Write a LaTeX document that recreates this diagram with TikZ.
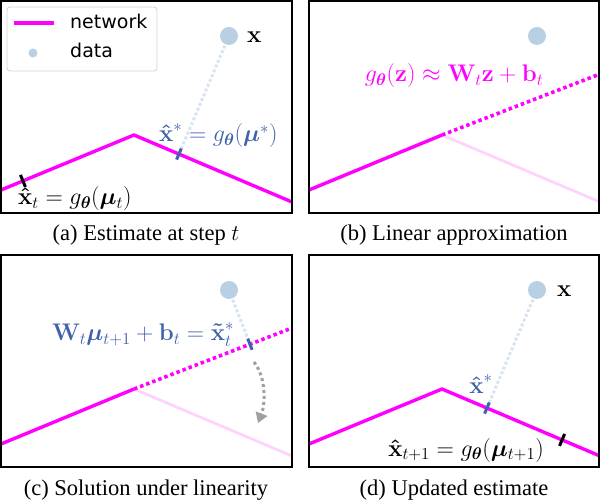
\RequirePackage{fix-cm}
\documentclass[tikz,border=0pt]{standalone}
\usepackage{amsmath,bm}
\usepackage[no-math]{fontspec}
\setmainfont{Liberation Serif}
\newfontfamily\legendfont{DejaVu Sans}
\usetikzlibrary{calc,arrows.meta}
\definecolor{netmag}{RGB}{255,0,255}
\definecolor{fadepink}{RGB}{255,212,250}
\definecolor{datablue}{RGB}{184,207,228}
\definecolor{projblue}{RGB}{218,228,240}
\definecolor{estblue}{RGB}{64,98,170}
\definecolor{arrgray}{RGB}{160,160,160}
\definecolor{legborder}{RGB}{210,210,210}
\newcommand{\hx}{\bm{\hat{\mathbf{x}}}}
\newcommand{\tx}{\bm{\tilde{\mathbf{x}}}}
\begin{document}
\begin{tikzpicture}[x=1pt,y=-1pt,
  frame/.style={draw=black,line width=1.1pt},
  net/.style={draw=netmag,line width=3.4pt},
  netlin/.style={draw=netmag,line width=3.6pt,dash pattern=on 3.5pt off 3pt},
  netfade/.style={draw=fadepink,line width=2.8pt},
  proj/.style={draw=projblue,line width=3pt,dash pattern=on 3pt off 2.2pt},
  datapt/.style={circle,fill=datablue,minimum size=18pt,inner sep=0pt},
  tickblack/.style={draw=black,line width=3pt},
  tickblue/.style={draw=estblue,line width=3pt},
  mlabel/.style={font=\fontsize{24}{28}\selectfont,inner sep=0pt},
  legtext/.style={font=\legendfont\fontsize{19}{22}\selectfont,inner sep=0pt,anchor=base west},
  captext/.style={font=\fontsize{22.5}{27}\selectfont,anchor=base,inner sep=0pt},
  grayarr/.style={draw=arrgray,line width=3pt,dash pattern=on 3pt off 3pt,
    -{Triangle[length=10pt,width=12pt,fill=arrgray]}},
]
\useasboundingbox (0,0) rectangle (602,502);

% ---------------- panel (a)
\begin{scope}[shift={(1,1)}]
  \begin{scope}
    \clip (0,0) rectangle (291,212);
    \coordinate (aL) at (0,189);
    \coordinate (aP) at (133,134);
    \coordinate (aR) at (291,201);
    \coordinate (aDc) at (228,35);
    \coordinate (aF) at ($(aP)!(aDc)!(aR)$);
    \coordinate (aT) at ($(aL)!0.165!(aP)$);
    \draw[net] (aL) -- (aP) -- (aR);
    \draw[proj] (aDc) -- (aF);
    \node[datapt] (aD) at (aDc) {};
    \draw[tickblack] ($(aT)!6.5pt!90:(aP)$) -- ($(aT)!6.5pt!-90:(aP)$);
    \draw[tickblue] ($(aF)!6pt!90:(aR)$) -- ($(aF)!6pt!-90:(aR)$);
    \node[mlabel,anchor=base west] (aLab) at (17,204) {$\hx_t = g_{\bm\theta}(\bm\mu_t)$};
    \node[mlabel,anchor=base west,text=estblue] (aLabS) at (158,141) {$\hx^* = g_{\bm\theta}(\bm\mu^*)$};
    \node[mlabel,anchor=base west] (aX) at (246,42) {$\mathbf{x}$};
    % legend
    \draw[draw=legborder,fill=white,rounded corners=3pt,line width=0.8pt] (6,6) rectangle (156,70);
    \coordinate (lgA) at (13,22);
    \coordinate (lgB) at (53,22);
    \draw[net] (lgA) -- (lgB);
    \node[legtext] (lgNet) at (69,28) {network};
    \node[circle,fill=datablue,minimum size=9pt,inner sep=0pt] (lgDot) at (32,52) {};
    \node[legtext] (lgData) at (69,57) {data};
  \end{scope}
  \draw[frame] (0,0) rectangle (291,212);
\end{scope}

% ---------------- panel (b)
\begin{scope}[shift={(309,1)}]
  \begin{scope}
    \clip (0,0) rectangle (290,212);
    \coordinate (bL) at (0,189);
    \coordinate (bP) at (133,134);
    \coordinate (bR) at (291,201);
    \coordinate (bE) at (291,73);
    \draw[netfade] (bP) -- (bR);
    \draw[net] (bL) -- (bP);
    \draw[netlin] (bP) -- (bE);
    \node[datapt] (bD) at (228,35) {};
    \node[mlabel,anchor=base,text=netmag] (bLab) at (145,81) {$g_{\bm\theta}(\mathbf{z}) \approx \mathbf{W}_t\mathbf{z} + \mathbf{b}_t$};
  \end{scope}
  \draw[frame] (0,0) rectangle (290,212);
\end{scope}

% ---------------- panel (c)
\begin{scope}[shift={(1,255)}]
  \begin{scope}
    \clip (0,0) rectangle (291,212);
    \coordinate (cL) at (0,189);
    \coordinate (cP) at (133,134);
    \coordinate (cR) at (291,201);
    \coordinate (cE) at (291,73);
    \coordinate (cDc) at (228,35);
    \coordinate (cF) at ($(cP)!(cDc)!(cE)$);
    \draw[netfade] (cP) -- (cR);
    \draw[net] (cL) -- (cP);
    \draw[netlin] (cP) -- (cE);
    \draw[proj] (cDc) -- (cF);
    \node[datapt] (cD) at (cDc) {};
    \draw[tickblue] ($(cF)!6pt!90:(cE)$) -- ($(cF)!6pt!-90:(cE)$);
    \coordinate (cA0) at (253,107);
    \coordinate (cA1) at (257,168);
    \draw[grayarr] (cA0) .. controls (266,124) and (264,150) .. (cA1);
    \node[mlabel,anchor=base,text=estblue] (cLab) at (142,86) {$\mathbf{W}_t\bm\mu_{t+1} + \mathbf{b}_t = \tx_t^*$};
  \end{scope}
  \draw[frame] (0,0) rectangle (291,212);
\end{scope}

% ---------------- panel (d)
\begin{scope}[shift={(309,255)}]
  \begin{scope}
    \clip (0,0) rectangle (290,212);
    \coordinate (dL) at (0,189);
    \coordinate (dP) at (133,134);
    \coordinate (dR) at (291,201);
    \coordinate (dDc) at (228,35);
    \coordinate (dF) at ($(dP)!(dDc)!(dR)$);
    \coordinate (dT) at ($(dP)!0.76!(dR)$);
    \draw[net] (dL) -- (dP) -- (dR);
    \draw[proj] (dDc) -- (dF);
    \node[datapt] (dD) at (dDc) {};
    \draw[tickblue] ($(dF)!6pt!90:(dR)$) -- ($(dF)!6pt!-90:(dR)$);
    \draw[tickblack] ($(dT)!6.5pt!90:(dR)$) -- ($(dT)!6.5pt!-90:(dR)$);
    \node[mlabel,anchor=base,text=estblue] (dLabS) at (172,138) {$\hx^*$};
    \node[mlabel,anchor=base] (dLab) at (157,201) {$\hx_{t+1} = g_{\bm\theta}(\bm\mu_{t+1})$};
    \node[mlabel,anchor=base west] (dX) at (248,42) {$\mathbf{x}$};
  \end{scope}
  \draw[frame] (0,0) rectangle (290,212);
\end{scope}

% ---------------- captions
\node[captext] (capA) at (146,241) {(a) Estimate at step $t$};
\node[captext] (capB) at (454,241) {(b) Linear approximation};
\node[captext] (capC) at (146,495) {(c) Solution under linearity};
\node[captext] (capD) at (454,495) {(d) Updated estimate};
\end{tikzpicture}
\end{document}
